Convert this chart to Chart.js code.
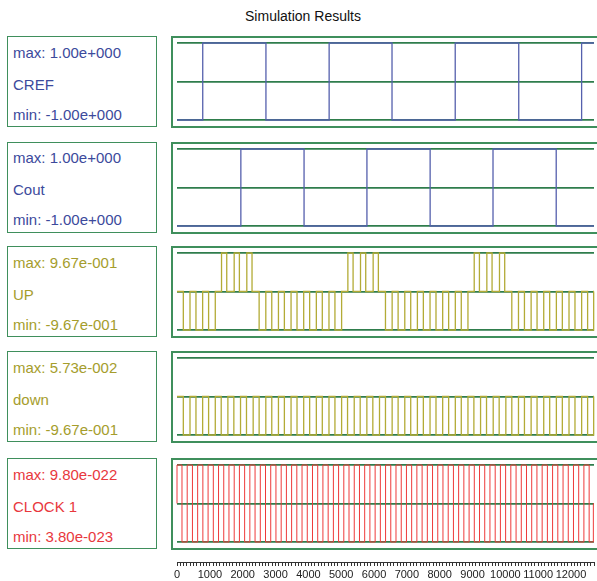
<!DOCTYPE html>
<html><head><meta charset="utf-8">
<script src="https://cdn.jsdelivr.net/npm/chart.js@4.4.1/dist/chart.umd.min.js"></script>
<style>
body{margin:0;background:#fff;width:597px;height:581px;overflow:hidden;position:relative;font-family:"Liberation Sans",Arial,sans-serif;}
#title{position:absolute;left:0;width:606px;top:8px;text-align:center;font-size:14px;line-height:16px;color:#111;}
.lbox{position:absolute;left:7px;width:148px;height:89px;border:1.5px solid #3f8f5c;}
.pbox{position:absolute;left:171px;width:440px;height:88px;border:2px solid #3f8f5c;}
.txt{position:absolute;left:13px;font-size:15px;line-height:17px;white-space:nowrap;}
canvas{position:absolute;}
</style>
</head><body>
<div id="title">Simulation Results</div>
<div id="root"></div>
<script>
// ---- data ----
const XMAX = 12800;
const PANEL_TOPS = [36, 141.5, 246, 351, 458];
const NAMES = ["CREF", "Cout", "UP", "down", "CLOCK 1"];
const MAXLBL = ["max: 1.00e+000", "max: 1.00e+000", "max: 9.67e-001", "max: 5.73e-002", "max: 9.80e-022"];
const MINLBL = ["min: -1.00e+000", "min: -1.00e+000", "min: -9.67e-001", "min: -9.67e-001", "min: 3.80e-023"];
const YMAX = [1.0, 1.0, 0.967, 0.0573, 9.80e-22];
const YMIN = [-1.0, -1.0, -0.967, -0.967, 3.80e-23];
const XTICK_LABELS = [0,1000,2000,3000,4000,5000,6000,7000,8000,9000,10000,11000,12000];

const CREF_T = [0, 790, 2730, 4670, 6600, 8540, 10490, 12420, 12800];
const CREF_V = [-1, 1, -1, 1, -1, 1, -1, 1, 1];

const COUT_T = [0, 1960, 3900, 5830, 7770, 9700, 11640, 12800];
const COUT_V = [-1, 1, -1, 1, -1, 1, -1, -1];

const UP_T = [0,
  194,399, 582,787, 970,1175,
  1367,1527, 1755,1915, 2143,2303,
  2521,2726, 2909,3114, 3296,3501, 3684,3889, 4072,4277, 4460,4665, 4848,5053,
  5245,5405, 5633,5793, 6021,6181,
  6399,6604, 6787,6992, 7174,7379, 7562,7767, 7950,8155, 8338,8543, 8726,8931,
  9123,9283, 9511,9671, 9899,10059,
  10277,10482, 10665,10870, 11052,11257, 11440,11645, 11828,12033, 12216,12421, 12604,12790,
  12800];
const UP_V = [0,
  -0.967,0, -0.967,0, -0.967,0,
  0.967,0, 0.967,0, 0.967,0,
  -0.967,0, -0.967,0, -0.967,0, -0.967,0, -0.967,0, -0.967,0, -0.967,0,
  0.967,0, 0.967,0, 0.967,0,
  -0.967,0, -0.967,0, -0.967,0, -0.967,0, -0.967,0, -0.967,0, -0.967,0,
  0.967,0, 0.967,0, 0.967,0,
  -0.967,0, -0.967,0, -0.967,0, -0.967,0, -0.967,0, -0.967,0, -0.967,0,
  0];

const DOWN_T = [0,
  194,399, 582,787, 970,1175, 1357,1562, 1745,1950, 2133,2338, 2521,2726, 2909,3114,
  3296,3501, 3684,3889, 4072,4277, 4460,4665, 4848,5053, 5235,5440, 5623,5828, 6011,6216,
  6399,6604, 6787,6992, 7174,7379, 7562,7767, 7950,8155, 8338,8543, 8726,8931, 9113,9318,
  9501,9706, 9889,10094, 10277,10482, 10665,10870, 11052,11257, 11440,11645, 11828,12033,
  12216,12421, 12604,12790, 12800];
const B = -0.455, D = -0.967;
const DOWN_V = [B,
  D,B, D,B, D,B, D,B, D,B, D,B, D,B, D,B,
  D,B, D,B, D,B, D,B, D,B, D,B, D,B, D,B,
  D,B, D,B, D,B, D,B, D,B, D,B, D,B, D,B,
  D,B, D,B, D,B, D,B, D,B, D,B, D,B,
  D,B, D,B, B];

const CLK_T = [0, 0,
  153, 313, 474, 634, 794, 954, 1115, 1275, 1435, 1595,
  1756, 1916, 2076, 2236, 2396, 2557, 2717, 2877, 3037, 3198,
  3358, 3518, 3678, 3838, 3999, 4159, 4319, 4479, 4640, 4800,
  4960, 5120, 5280, 5441, 5601, 5761, 5921, 6082, 6242, 6402,
  6562, 6722, 6883, 7043, 7203, 7363, 7524, 7684, 7844, 8004,
  8164, 8325, 8485, 8645, 8805, 8966, 9126, 9286, 9446, 9606,
  9767, 9927, 10087, 10247, 10408, 10568, 10728, 10888, 11048, 11209,
  11369, 11529, 11689, 11850, 12010, 12170, 12330, 12490, 12651,
  12780, 12800];
const H = 9.80e-22, L = 3.80e-23, M = 5.09e-22;
const CLK_V = [M, H,
  L,H,L,H,L,H,L,H,L,H,
  L,H,L,H,L,H,L,H,L,H,
  L,H,L,H,L,H,L,H,L,H,
  L,H,L,H,L,H,L,H,L,H,
  L,H,L,H,L,H,L,H,L,H,
  L,H,L,H,L,H,L,H,L,H,
  L,H,L,H,L,H,L,H,L,H,
  L,H,L,H,L,H,L,H,L,
  M, M];

// ---- styles ----
const GRID = '#2f7d4c';
const TEXTCOL = ['#3c4a9c', '#3c4a9c', '#a59d2c', '#a59d2c', '#e8383d'];
const LINECOL = ['#5560ad', '#5560ad', '#b3ab36', '#b3ab36', '#ee3a3a'];
const SERIES = [[CREF_T, CREF_V], [COUT_T, COUT_V], [UP_T, UP_V], [DOWN_T, DOWN_V], [CLK_T, CLK_V]];

const root = document.getElementById('root');
function el(tag, cls, style, text) {
  const e = document.createElement(tag);
  if (cls) e.className = cls;
  Object.assign(e.style, style);
  if (text !== undefined) e.textContent = text;
  root.appendChild(e);
  return e;
}

PANEL_TOPS.forEach((T, i) => {
  el('div', 'lbox', {top: T + 'px'});
  el('div', 'txt', {top: (T + 7.5) + 'px', color: TEXTCOL[i]}, MAXLBL[i]);
  el('div', 'txt', {top: (T + 39.5) + 'px', color: TEXTCOL[i]}, NAMES[i]);
  el('div', 'txt', {top: (T + 69.5) + 'px', color: TEXTCOL[i]}, MINLBL[i]);
  el('div', 'pbox', {top: T + 'px'});
  const cv = el('canvas', null, {left: '172px', top: T + 'px'});
  cv.width = 425; cv.height = 92;
  const [tt, vv] = SERIES[i];
  const pts = tt.map((t, k) => ({x: t, y: vv[k]}));
  const ymin = YMIN[i], ymax = YMAX[i];
  new Chart(cv, {
    type: 'line',
    data: {datasets: [{data: pts, borderColor: LINECOL[i], borderWidth: i === 4 ? 1 : 1.3,
      pointRadius: 0, stepped: 'before', fill: false, tension: 0, clip: 6}]},
    options: {
      responsive: false, animation: false, events: [],
      layout: {padding: {left: 5, right: 3, top: 7, bottom: 8}},
      plugins: {legend: {display: false}, tooltip: {enabled: false}},
      scales: {
        x: {type: 'linear', min: 0, max: XMAX, display: false},
        y: {type: 'linear', min: ymin, max: ymax,
          border: {display: false},
          ticks: {display: false, callback: () => ''},
          grid: {drawTicks: false, color: GRID, lineWidth: 1.8},
          afterBuildTicks: s => { s.ticks = [{value: ymin}, {value: (ymin + ymax) / 2}, {value: ymax}]; }
        }
      }
    }
  });
});

// ruler
const rc = el('canvas', null, {left: '172px', top: '538px'});
rc.width = 425; rc.height = 41;
new Chart(rc, {
  type: 'line',
  data: {datasets: [{data: [], pointRadius: 0}]},
  options: {
    responsive: false, animation: false, events: [],
    layout: {padding: {left: 5, right: 3, top: 8, bottom: 1}},
    plugins: {legend: {display: false}, tooltip: {enabled: false}},
    scales: {
      x: {type: 'linear', position: 'bottom', min: 0, max: 12700,
        border: {display: true, color: '#333', width: 1},
        grid: {drawOnChartArea: false, drawTicks: true, tickLength: 4, tickColor: '#333', tickWidth: 1},
        ticks: {stepSize: 100, autoSkip: false, maxRotation: 0, minRotation: 0, padding: 2,
          color: '#222', font: {family: 'Liberation Sans, Arial, sans-serif', size: 11},
          callback: v => XTICK_LABELS.includes(v) ? String(v) : ''}
      },
      y: {display: false, min: 0, max: 1}
    }
  }
});
</script>
</body></html>
